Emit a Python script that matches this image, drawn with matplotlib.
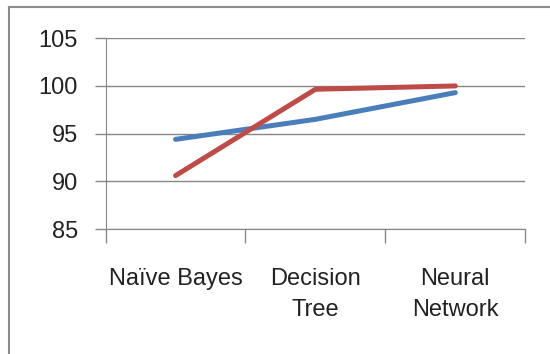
import matplotlib
matplotlib.use("Agg")
import matplotlib.pyplot as plt
from matplotlib.lines import Line2D

categories = ["Naïve Bayes", "Decision\nTree", "Neural\nNetwork"]
blue_vals = [94.4, 96.5, 99.3]
red_vals = [90.6, 99.65, 100.0]
yticks = [85, 90, 95, 100, 105]

plt.rcParams['font.family'] = ['Liberation Sans', 'DejaVu Sans']

fig = plt.figure(figsize=(5.5, 3.54), dpi=100)
ax = fig.add_axes([0.192, 0.353, 0.763, 0.539])

# outer chart border (only top and left edges visible in the screenshot)
bx, by = 8.5 / 550, 1 - 6.5 / 354
fig.add_artist(Line2D([bx, 1.0], [by, by], transform=fig.transFigure,
                      color='#8c8c8c', linewidth=1.5))
fig.add_artist(Line2D([bx, bx], [0.0, by], transform=fig.transFigure,
                      color='#8c8c8c', linewidth=1.5))

x = range(len(categories))
ax.plot(x, blue_vals, color='#4a7ebb', linewidth=3.6, solid_capstyle='round')
ax.plot(x, red_vals, color='#be4b48', linewidth=3.6, solid_capstyle='round')

ax.set_xlim(-0.5, 2.5)
ax.set_ylim(85, 105)
ax.set_yticks(yticks)
ax.set_xticks(list(x))
ax.set_xticklabels(categories, fontsize=17, linespacing=1.55, color='#222222')
ax.tick_params(axis='y', labelsize=17, length=8, width=1, color='#868686',
               pad=12, labelcolor='#222222')
ax.tick_params(axis='x', length=0, pad=28)
# category boundary tick marks
ax.set_xticks([-0.5, 0.5, 1.5, 2.5], minor=True)
ax.tick_params(axis='x', which='minor', length=10, width=1, color='#868686')

ax.grid(axis='y', color='#868686', linewidth=1)
ax.set_axisbelow(True)
for side in ['top', 'right']:
    ax.spines[side].set_visible(False)
ax.spines['left'].set_color('#868686')
ax.spines['bottom'].set_color('#868686')

fig.savefig("out.png", dpi=100)
